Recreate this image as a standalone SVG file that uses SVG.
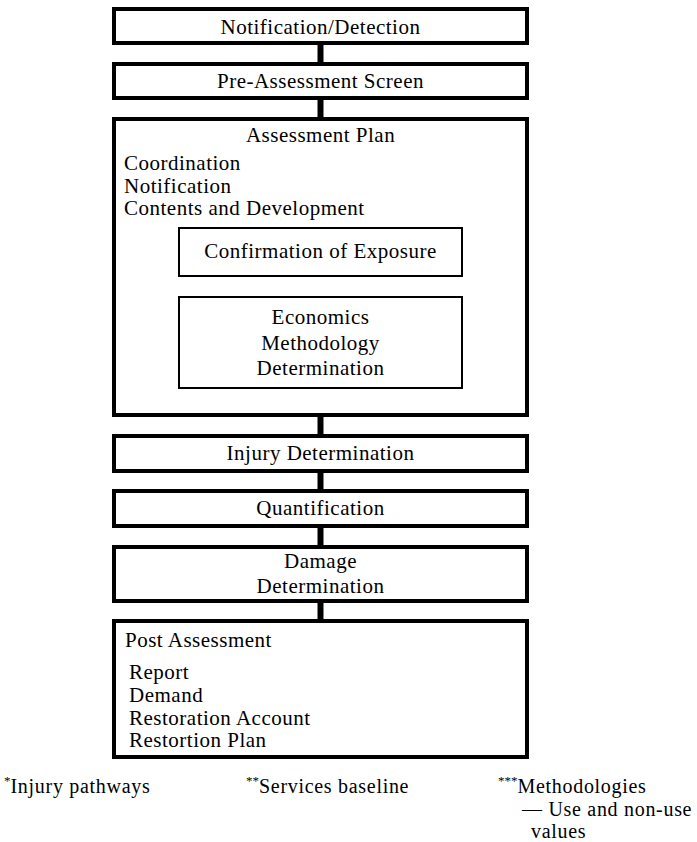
<svg xmlns="http://www.w3.org/2000/svg" width="697" height="842" viewBox="0 0 697 842">
  <style>
    .box { fill: #ffffff; stroke: #000000; stroke-width: 4; }
    .inner { fill: #ffffff; stroke: #000000; stroke-width: 2; }
    .link { stroke: #000000; stroke-width: 6; fill: none; }
    text { font-family: "Liberation Serif", "Times New Roman", serif; font-size: 21px; letter-spacing: 0.5px; fill: #000000; }
    .c { text-anchor: middle; }
    .note { font-size: 20px; letter-spacing: 0.7px; }
    .sup { font-size: 13px; letter-spacing: 0; }
  </style>
  <rect x="0" y="0" width="697" height="842" fill="#ffffff"/>

  <!-- vertical links between the stacked stages -->
  <g id="connectors">
    <line class="link" x1="320.5" y1="45" x2="320.5" y2="62"/>
    <line class="link" x1="320.5" y1="100" x2="320.5" y2="117"/>
    <line class="link" x1="320.5" y1="417" x2="320.5" y2="434"/>
    <line class="link" x1="320.5" y1="473" x2="320.5" y2="489"/>
    <line class="link" x1="320.5" y1="528" x2="320.5" y2="545"/>
    <line class="link" x1="320.5" y1="603" x2="320.5" y2="619"/>
  </g>

  <g id="notification-detection">
    <rect class="box" x="114" y="9" width="413" height="34"/>
    <text class="c" x="320.5" y="34">Notification/Detection</text>
  </g>

  <g id="pre-assessment-screen">
    <rect class="box" x="114" y="64" width="413" height="34"/>
    <text class="c" x="320.5" y="88">Pre-Assessment Screen</text>
  </g>

  <g id="assessment-plan">
    <rect class="box" x="114" y="119" width="413" height="296"/>
    <text class="c" x="320.5" y="142">Assessment Plan</text>
    <text x="124" y="170">Coordination</text>
    <text x="124" y="192.5">Notification</text>
    <text x="124" y="215">Contents and Development</text>
  </g>

  <g id="confirmation-of-exposure">
    <rect class="inner" x="179" y="228" width="283" height="48"/>
    <text class="c" x="320.5" y="258">Confirmation of Exposure</text>
  </g>

  <g id="economics-methodology">
    <rect class="inner" x="179" y="297" width="283" height="91"/>
    <text class="c" x="320.5" y="324">Economics</text>
    <text class="c" x="320.5" y="349.5">Methodology</text>
    <text class="c" x="320.5" y="375">Determination</text>
  </g>

  <g id="injury-determination">
    <rect class="box" x="114" y="436" width="413" height="35"/>
    <text class="c" x="320.5" y="460">Injury Determination</text>
  </g>

  <g id="quantification">
    <rect class="box" x="114" y="491" width="413" height="35"/>
    <text class="c" x="320.5" y="515">Quantification</text>
  </g>

  <g id="damage-determination">
    <rect class="box" x="114" y="547" width="413" height="54"/>
    <text class="c" x="320.5" y="568">Damage</text>
    <text class="c" x="320.5" y="593">Determination</text>
  </g>

  <g id="post-assessment">
    <rect class="box" x="114" y="621" width="413" height="136"/>
    <text x="125" y="647">Post Assessment</text>
    <text x="129" y="679">Report</text>
    <text x="129" y="702">Demand</text>
    <text x="129" y="725">Restoration Account</text>
    <text x="129" y="747">Restortion Plan</text>
  </g>

  <!-- footnotes -->
  <g id="footnotes">
    <text class="note" x="4" y="793"><tspan class="sup" dy="-8">*</tspan><tspan dy="8">Injury pathways</tspan></text>
    <text class="note" x="246" y="793"><tspan class="sup" dy="-8">**</tspan><tspan dy="8">Services baseline</tspan></text>
    <text class="note" x="498" y="793"><tspan class="sup" dy="-8">***</tspan><tspan dy="8">Methodologies</tspan></text>
    <text class="note" x="522" y="815.5">— Use and non-use</text>
    <text class="note" x="531" y="838">values</text>
  </g>
</svg>
